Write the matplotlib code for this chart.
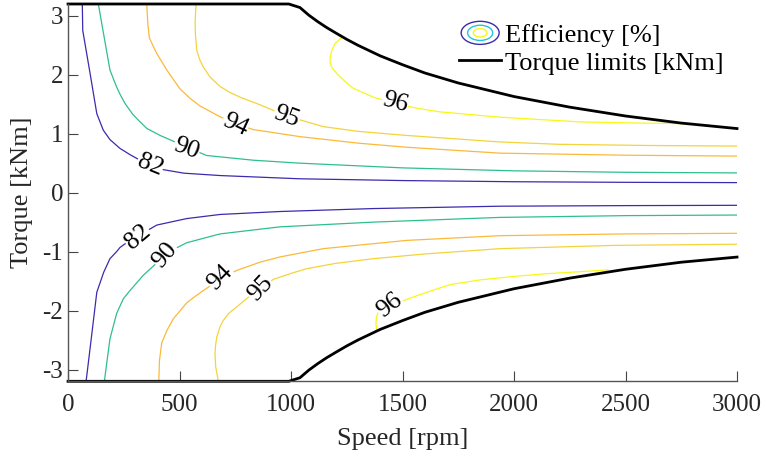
import matplotlib
matplotlib.use('Agg')
import matplotlib.pyplot as plt
from matplotlib.patches import Ellipse
from matplotlib.legend_handler import HandlerBase
from matplotlib.lines import Line2D

plt.rcParams['font.family'] = ['Liberation Serif', 'DejaVu Serif']
plt.rcParams['axes.unicode_minus'] = False

# torque limit envelope (motoring / generating)
lim_speed = [0, 990, 1040, 1080, 1120, 1160, 1200, 1250, 1300, 1400, 1500, 1600, 1750,
             2000, 2250, 2500, 2750, 3000]
lim_up = [3.2, 3.2, 3.14, 3.01, 2.90, 2.80, 2.71, 2.60, 2.50, 2.32, 2.17, 2.03, 1.86,
          1.63, 1.45, 1.30, 1.18, 1.087]
lim_lo = [-3.2, -3.2, -3.14, -3.01, -2.90, -2.80, -2.71, -2.60, -2.50, -2.32, -2.17, -2.03, -1.86,
          -1.63, -1.45, -1.30, -1.18, -1.093]

levels = [82, 90, 94, 95, 96]
level_colors = ['#3b2bae', '#2ebf8e', '#fbb93a', '#f3d43a', '#f7f71a']

# efficiency contour lines: (speed rpm, torque kNm)
up82_s = [64, 66, 99, 129, 158, 188, 233, 280, 323, 370, 427, 520, 682, 1040, 1500, 2000, 2500, 3000]
up82_t = [3.2, 2.75, 2.02, 1.34, 1.06, 0.90, 0.75, 0.64, 0.55, 0.46, 0.39, 0.33, 0.29, 0.235,
          0.205, 0.185, 0.175, 0.17]
up90_s = [136, 160, 188, 218, 233, 256, 290, 323, 353, 413, 480, 532, 622, 831, 1040, 1500,
          2000, 2500, 3000]
up90_t = [3.2, 2.68, 2.08, 1.79, 1.67, 1.51, 1.33, 1.20, 1.09, 0.97, 0.86, 0.77, 0.63, 0.55,
          0.50, 0.42, 0.37, 0.345, 0.335]
up94_s = [353, 358, 365, 398, 443, 502, 547, 592, 675, 749, 831, 1040, 1300, 1519, 1937, 2500, 3000]
up94_t = [3.2, 2.85, 2.62, 2.36, 2.08, 1.76, 1.60, 1.47, 1.30, 1.17, 1.07, 0.95, 0.84, 0.77,
          0.67, 0.635, 0.62]
up95_s = [574, 570, 571, 577, 590, 607, 637, 682, 726, 771, 861, 980, 1145, 1300, 1519, 1937,
          2200, 2600, 3000]
up95_t = [3.2, 2.9, 2.70, 2.42, 2.26, 2.13, 1.96, 1.80, 1.70, 1.62, 1.49, 1.30, 1.12, 1.04,
          0.97, 0.86, 0.82, 0.80, 0.79]
up96_s = [1227, 1197, 1182, 1175, 1176, 1182, 1205, 1235, 1279, 1369, 1466, 1568, 1668, 1937,
          2296, 2560, 2780]
up96_t = [2.63, 2.53, 2.40, 2.28, 2.20, 2.13, 2.02, 1.91, 1.77, 1.62, 1.51, 1.43, 1.37, 1.28,
          1.20, 1.18, 1.17]

lo82_s = [81, 105, 129, 160, 188, 218, 233, 270, 315, 398, 532, 682, 951, 1369, 1937, 2500, 3000]
lo82_t = [-3.2, -2.45, -1.69, -1.35, -1.12, -1.00, -0.93, -0.83, -0.73, -0.55, -0.44, -0.37,
          -0.32, -0.27, -0.23, -0.22, -0.215]
lo90_s = [163, 175, 188, 218, 248, 278, 338, 390, 435, 480, 532, 682, 861, 951, 1369, 1937,
          2500, 3000]
lo90_t = [-3.2, -2.85, -2.48, -2.05, -1.80, -1.66, -1.40, -1.22, -1.07, -0.95, -0.85, -0.70,
          -0.62, -0.58, -0.50, -0.42, -0.39, -0.38]
lo94_s = [407, 410, 420, 443, 472, 532, 570, 607, 682, 756, 861, 951, 1145, 1519, 1937, 2500, 3000]
lo94_t = [-3.2, -2.85, -2.55, -2.34, -2.14, -1.87, -1.76, -1.66, -1.47, -1.32, -1.18, -1.09,
          -0.95, -0.81, -0.73, -0.70, -0.69]
lo95_s = [674, 662, 659, 662, 667, 682, 696, 720, 756, 800, 861, 921, 1000, 1070, 1200, 1369,
          1600, 1937, 2445, 3000]
lo95_t = [-3.2, -2.95, -2.73, -2.58, -2.45, -2.27, -2.17, -2.05, -1.94, -1.80, -1.63, -1.47,
          -1.37, -1.29, -1.20, -1.12, -1.04, -0.95, -0.895, -0.875]
lo96_s = [1384, 1381, 1383, 1392, 1410, 1444, 1504, 1608, 1713, 1848, 2000, 2147, 2300, 2420]
lo96_t = [-2.34, -2.22, -2.11, -2.02, -1.97, -1.92, -1.83, -1.69, -1.56, -1.48, -1.42, -1.375,
          -1.34, -1.31]

up_lines = [(up82_s, up82_t), (up90_s, up90_t), (up94_s, up94_t), (up95_s, up95_t), (up96_s, up96_t)]
lo_lines = [(lo82_s, lo82_t), (lo90_s, lo90_t), (lo94_s, lo94_t), (lo95_s, lo95_t), (lo96_s, lo96_t)]

# inline label positions and angles
up_lab = [(368, 0.47, -22), (532, 0.75, -20), (749, 1.15, -25), (980, 1.28, -20), (1466, 1.52, -15)]
lo_lab = [(312, -0.75, 40), (435, -1.06, 50), (682, -1.44, 45), (861, -1.63, 47), (1444, -1.92, 38)]


class HandlerRings(HandlerBase):
    def create_artists(self, legend, orig_handle, xdescent, ydescent,
                       width, height, fontsize, trans):
        cx = 0.5 * width - xdescent
        cy = 0.5 * height - ydescent
        arts = []
        for s, c in zip([1.0, 0.66, 0.36], ['#3b2bae', '#22c6d6', '#f7f71a']):
            e = Ellipse((cx, cy), width * 0.9 * s, height * 1.25 * s, fill=False,
                        ec=c, lw=1.0, transform=trans)
            arts.append(e)
        return arts


fig = plt.figure(figsize=(7.67, 4.59), dpi=100)
ax = fig.add_axes([0.0887, 0.1693, 0.8722, 0.822])

for (s, t), c in zip(up_lines + lo_lines, level_colors + level_colors):
    ax.plot(s, t, color=c, lw=0.9)

for (x, y, r), lv in zip(up_lab + lo_lab, levels + levels):
    ax.text(x, y, str(lv), rotation=r, ha='center', va='center', fontsize=18.5,
            rotation_mode='anchor',
            bbox=dict(fc='white', ec='none', pad=0.3))

ax.plot(lim_speed, lim_up, color='black', lw=2, clip_on=False)
ax.plot(lim_speed, lim_lo, color='black', lw=2, clip_on=False)

ax.set_xlim(0, 3000)
ax.set_ylim(-3.2, 3.2)
ax.set_xticks([0, 500, 1000, 1500, 2000, 2500, 3000])
ax.set_yticks([-3, -2, -1, 0, 1, 2, 3])
ax.spines['top'].set_visible(False)
ax.spines['right'].set_visible(False)
for sp in ['left', 'bottom']:
    ax.spines[sp].set_color('#555555')
    ax.spines[sp].set_linewidth(1.0)
ax.tick_params(direction='in', length=7, width=0.8, color='#444444',
               labelcolor='#262626', labelsize=18)
ax.tick_params(axis='x', pad=9)
ax.set_xlabel('Speed [rpm]', fontsize=19, color='#262626', labelpad=9)
ax.set_ylabel('Torque [kNm]', fontsize=19, color='#262626', labelpad=7)

eff_handle = object()
lim_handle = Line2D([], [], color='black', lw=2)
ax.legend([eff_handle, lim_handle], ['Efficiency [%]', 'Torque limits [kNm]'],
          handler_map={eff_handle: HandlerRings()},
          loc='upper left', bbox_to_anchor=(0.5845, 0.948), borderaxespad=0,
          borderpad=0, frameon=False, fontsize=19, handlelength=1.6,
          handletextpad=0.15, labelspacing=0.15)

fig.savefig('out.png', dpi=100)
